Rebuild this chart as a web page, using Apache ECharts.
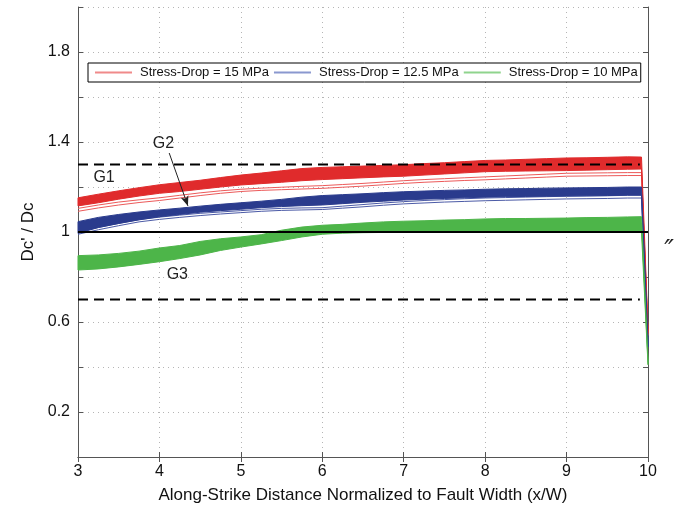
<!DOCTYPE html>
<html><head><meta charset="utf-8">
<script src="https://cdn.jsdelivr.net/npm/echarts@6/dist/echarts.min.js"></script>
<style>html,body{margin:0;padding:0;background:#fff}#c{width:683px;height:515px}</style>
</head><body><div id="c"></div>
<script>
// ---- data ----
const xs = [3, 3.25, 3.5, 3.75, 4, 4.25, 4.5, 4.75, 5, 5.25, 5.5, 5.75, 6, 6.25, 6.5, 6.75, 7, 7.25, 7.5, 7.75, 8, 8.25, 8.5, 8.75, 9, 9.25, 9.5, 9.75, 9.92, 10];

const redUpper = [1.152,1.168,1.183,1.197,1.21,1.22,1.23,1.242,1.253,1.262,1.272,1.282,1.287,1.29,1.293,1.296,1.299,1.304,1.308,1.313,1.318,1.32,1.323,1.326,1.329,1.33,1.332,1.334,1.333,0.57];
const redLower = [1.116,1.13,1.146,1.16,1.172,1.18,1.19,1.2,1.209,1.215,1.221,1.228,1.233,1.237,1.241,1.245,1.248,1.253,1.258,1.263,1.268,1.27,1.271,1.272,1.273,1.275,1.277,1.279,1.28,0.55];
const redThinA = [1.105,1.12,1.133,1.143,1.152,1.163,1.174,1.183,1.19,1.195,1.199,1.203,1.206,1.211,1.216,1.222,1.228,1.233,1.237,1.241,1.245,1.249,1.253,1.257,1.261,1.262,1.263,1.264,1.264,0.55];
const redThinB = [1.092,1.107,1.12,1.131,1.14,1.151,1.162,1.172,1.18,1.185,1.188,1.191,1.194,1.199,1.204,1.21,1.216,1.221,1.225,1.229,1.232,1.236,1.24,1.244,1.248,1.249,1.25,1.251,1.251,0.54];

const blueUpper = [1.046,1.065,1.078,1.089,1.098,1.106,1.115,1.123,1.13,1.137,1.145,1.155,1.162,1.166,1.17,1.175,1.179,1.182,1.185,1.187,1.19,1.192,1.193,1.195,1.196,1.197,1.198,1.2,1.2,0.51];
const blueLower = [0.994,1.02,1.038,1.054,1.068,1.078,1.088,1.095,1.101,1.108,1.113,1.117,1.12,1.126,1.132,1.137,1.142,1.146,1.149,1.152,1.155,1.157,1.158,1.159,1.16,1.161,1.162,1.164,1.164,0.49];
const blueThinA = [1.0,1.02,1.038,1.055,1.066,1.075,1.083,1.089,1.095,1.101,1.105,1.107,1.108,1.115,1.122,1.129,1.135,1.14,1.144,1.148,1.151,1.153,1.155,1.157,1.159,1.16,1.161,1.163,1.163,0.5];
const blueThinB = [0.99,1.01,1.028,1.045,1.056,1.065,1.073,1.08,1.086,1.092,1.096,1.098,1.1,1.106,1.112,1.119,1.125,1.129,1.133,1.136,1.139,1.141,1.143,1.145,1.147,1.148,1.149,1.151,1.151,0.49];

const greenUpper = [0.895,0.898,0.905,0.915,0.929,0.94,0.958,0.97,0.978,0.988,1.008,1.022,1.03,1.034,1.04,1.045,1.048,1.05,1.053,1.055,1.058,1.06,1.06,1.061,1.062,1.064,1.065,1.067,1.068,0.43];
const greenLower = [0.831,0.836,0.845,0.856,0.868,0.882,0.898,0.918,0.933,0.947,0.962,0.978,0.99,0.995,0.997,0.998,1.0,1.0,1.0,1.0,1.0,1.0,1.0,1.0,1.0,1.0,1.0,1.0,1.0,0.41];
const greenThin = [0.86,0.865,0.873,0.884,0.897,0.91,0.926,0.942,0.955,0.966,0.984,1.0,1.01,1.015,1.02,1.024,1.026,1.028,1.03,1.031,1.033,1.034,1.035,1.036,1.037,1.038,1.039,1.04,1.04,0.42];

const seriesNames = ['Stress-Drop = 15 MPa', 'Stress-Drop = 12.5 MPa', 'Stress-Drop = 10 MPa'];
const dashedLevels = [1.3, 0.7];
const dashedSpan = [3, 9.9];
const solidLevel = 1.0;
const solidSpan = [3, 10];
const yLabelValues = [0.2, 0.6, 1, 1.4, 1.8];
const annotations = [
  {text: 'G1', x: 3.32, y: 1.24},
  {text: 'G2', x: 4.05, y: 1.391},
  {text: 'G3', x: 4.22, y: 0.81}
];
const arrowFrom = [4.12, 1.351];
const arrowTo = [4.35, 1.116];

// ---- styles ----
const FONT = "'Liberation Sans', Arial, Helvetica, sans-serif";
const COL = {
  red: '#e02b2c', blue: '#2a3b8d', green: '#4db549',
  redThin: '#ec5a5a', blueThin: '#4b5aa6', greenThin: '#6cc46a',
  redLeg: '#f08a8a', blueLeg: '#8a98cf', greenLeg: '#8fd48d'
};

const pairs = arr => xs.map((x, i) => [x, arr[i]]);

function band(id, upper, lower, color) {
  return {
    type: 'custom', name: id + '-band', silent: true, z: 3,
    data: [[xs[0], upper[0]]], encode: {x: 0, y: 1},
    renderItem: function (params, api) {
      const pts = [];
      for (let i = 0; i < xs.length; i++) pts.push(api.coord([xs[i], upper[i]]));
      for (let i = xs.length - 1; i >= 0; i--) pts.push(api.coord([xs[i], lower[i]]));
      return {type: 'polygon', shape: {points: pts},
        style: {fill: color, stroke: color, lineWidth: 1}};
    }
  };
}
function thin(name, arr, color, z) {
  return {type: 'line', name: name, data: pairs(arr), symbol: 'none', showSymbol: false,
    lineStyle: {width: 1, color: color}, itemStyle: {color: color}, z: z, silent: true};
}
function hline(level, span, dashed) {
  return {type: 'line', name: 'ref' + level, data: [[span[0], level], [span[1], level]], symbol: 'none',
    lineStyle: {width: 2, color: '#000', type: dashed ? [10, 6] : 'solid'}, z: 5, silent: true};
}

const series = [
  thin(seriesNames[0], redThinA, COL.redThin, 2),
  thin(seriesNames[0] + ' b', redThinB, COL.redThin, 2),
  thin(seriesNames[1], blueThinA, COL.blueThin, 2),
  thin(seriesNames[1] + ' b', blueThinB, COL.blueThin, 2),
  thin(seriesNames[2], greenThin, COL.greenThin, 2),
  band('red', redUpper, redLower, COL.red),
  band('blue', blueUpper, blueLower, COL.blue),
  band('green', greenUpper, greenLower, COL.green),
  ...dashedLevels.map(l => hline(l, dashedSpan, true)),
  hline(solidLevel, solidSpan, false)
];
series[0].markLine = {
  silent: true, symbol: ['none', 'arrow'], symbolSize: [6, 10], animation: false,
  lineStyle: {color: '#222', width: 1, type: 'solid'}, label: {show: false},
  data: [[{coord: arrowFrom}, {coord: arrowTo}]]
};

const axisLineStyle = {color: '#555', width: 1};
const gridLine = {show: true, lineStyle: {color: '#b5b5b5', type: [1, 4], width: 1}};

const option = {
  animation: false,
  backgroundColor: '#fff',
  textStyle: {fontFamily: FONT},
  grid: {left: 78, right: 35, top: 7, bottom: 58, containLabel: false},
  legend: {
    left: 88, top: 63, orient: 'horizontal',
    padding: [3, 3, 3, 7], itemGap: 5, itemWidth: 37, itemHeight: 2,
    borderColor: '#000', borderWidth: 1, backgroundColor: '#fff',
    textStyle: {fontSize: 13, color: '#111', fontFamily: FONT, padding: [0, 0, 0, 3]},
    icon: 'rect',
    data: [
      {name: seriesNames[0], itemStyle: {color: COL.redLeg}},
      {name: seriesNames[1], itemStyle: {color: COL.blueLeg}},
      {name: seriesNames[2], itemStyle: {color: COL.greenLeg}}
    ],
    selectedMode: false, z: 10
  },
  xAxis: [
    {type: 'value', min: 3, max: 10, interval: 1,
     axisLine: {lineStyle: axisLineStyle}, axisTick: {inside: true, length: 5, lineStyle: axisLineStyle},
     axisLabel: {fontSize: 16, color: '#111', margin: 7, fontFamily: FONT},
     splitLine: gridLine,
     name: 'Along-Strike Distance Normalized to Fault Width (x/W)', nameLocation: 'middle', nameGap: 30,
     nameTextStyle: {fontSize: 17, color: '#111', fontFamily: FONT}},
    {type: 'value', min: 3, max: 10, interval: 1, position: 'top',
     axisLine: {lineStyle: axisLineStyle}, axisTick: {inside: true, length: 5, lineStyle: axisLineStyle},
     axisLabel: {show: false}, splitLine: {show: false}}
  ],
  yAxis: [
    {type: 'value', min: 0, max: 2, interval: 0.2,
     axisLine: {show: true, lineStyle: axisLineStyle}, axisTick: {show: true, inside: true, length: 5, lineStyle: axisLineStyle},
     axisLabel: {fontSize: 16, color: '#111', margin: 8, fontFamily: FONT,
       formatter: v => yLabelValues.some(t => Math.abs(t - v) < 1e-6) ? String(+v.toFixed(1)) : ''},
     splitLine: gridLine,
     name: "Dc' / Dc", nameLocation: 'middle', nameGap: 38, nameRotate: 90,
     nameTextStyle: {fontSize: 17, color: '#111', fontFamily: FONT}},
    {type: 'value', min: 0, max: 2, interval: 0.2, position: 'right',
     axisLine: {show: true, lineStyle: axisLineStyle}, axisTick: {show: true, inside: true, length: 5, lineStyle: axisLineStyle},
     axisLabel: {show: false}, splitLine: {show: false}}
  ],
  series: series
};

const chart = echarts.init(document.getElementById('c'), null, {renderer: 'canvas'});
chart.setOption(option);

const graphics = annotations.map(a => {
  const p = chart.convertToPixel({xAxisIndex: 0, yAxisIndex: 0}, [a.x, a.y]);
  return {type: 'text', x: p[0], y: p[1], z: 20,
    style: {text: a.text, fontSize: 16, fontFamily: FONT, fill: '#222', align: 'center', verticalAlign: 'middle'}};
});
graphics.push({type: 'text', x: 669, y: 252, z: 20,
  style: {text: '\u2033', fontSize: 26, fontStyle: 'italic', fontFamily: "'DejaVu Sans', sans-serif", fill: '#222', align: 'center', verticalAlign: 'middle'}});
chart.setOption({graphic: graphics});
</script>
</body></html>
